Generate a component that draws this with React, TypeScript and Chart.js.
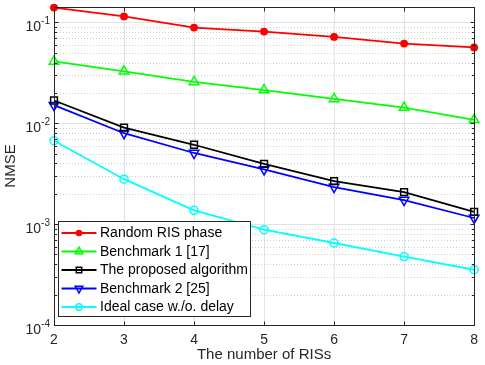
import React, { useEffect, useRef } from "react";
import { Chart, registerables } from "chart.js";

Chart.register(...registerables);

const xValues = [2, 3, 4, 5, 6, 7, 8];
const randomPhase = [0.14, 0.1146, 0.0887, 0.081, 0.0718, 0.0616, 0.0564];
const benchmark1 = [0.041, 0.0327, 0.0257, 0.0213, 0.0174, 0.0143, 0.0108];
const proposed = [0.0168, 0.00906, 0.00612, 0.00395, 0.00267, 0.00208, 0.00132];
const benchmark2 = [0.0151, 0.00796, 0.00507, 0.00348, 0.00233, 0.00173, 0.00115];
const ideal = [0.00671, 0.00279, 0.00137, 0.00088, 0.00065, 0.000477, 0.000353];
const yDecades = [1e-4, 1e-3, 1e-2, 1e-1];
const yExponents = ["-4", "-3", "-2", "-1"];
const seriesNames = [
  "Random RIS phase",
  "Benchmark 1 [17]",
  "The proposed algorithm",
  "Benchmark 2 [25]",
  "Ideal case w./o. delay",
];

const FONT = "'Liberation Sans', Arial, Helvetica, sans-serif";
const AXIS = "#262626";

function drawMarker(ctx: any, style: string, r: number, x: number, y: number, rotation: number, fill: string, stroke: string) {
  ctx.save();
  ctx.fillStyle = fill;
  ctx.strokeStyle = stroke;
  ctx.lineWidth = 1.5;
  ctx.beginPath();
  if (style === "circle") {
    ctx.arc(x, y, r, 0, Math.PI * 2);
  } else if (style === "rect") {
    const s = r * Math.SQRT1_2;
    ctx.rect(x - s, y - s, 2 * s, 2 * s);
  } else if (style === "triangle") {
    const dir = rotation === 180 ? -1 : 1;
    const w = (r * Math.sqrt(3)) / 2;
    ctx.moveTo(x, y - dir * r);
    ctx.lineTo(x - w, y + dir * r * 0.5);
    ctx.lineTo(x + w, y + dir * r * 0.5);
    ctx.closePath();
  }
  ctx.fill();
  ctx.stroke();
  ctx.restore();
}

const decoPlugin = {
  id: "deco",
  beforeDatasetsDraw(chart: any) {
    const { ctx, chartArea } = chart;
    const { left, right, top, bottom } = chartArea;
    const x = chart.scales.x;
    const y = chart.scales.y;
    ctx.save();
    ctx.lineWidth = 1;
    ctx.strokeStyle = "#e2e2e2";
    for (const v of xValues) {
      const px = Math.round(x.getPixelForValue(v)) + 0.5;
      ctx.beginPath();
      ctx.moveTo(px, top);
      ctx.lineTo(px, bottom);
      ctx.stroke();
    }
    ctx.strokeStyle = "#cdcdcd";
    ctx.setLineDash([1, 2]);
    for (const d of yDecades) {
      for (let m = 2; m <= 9; m++) {
        const v = d * m;
        if (v > y.max) continue;
        const py = Math.round(y.getPixelForValue(v)) + 0.5;
        ctx.beginPath();
        ctx.moveTo(left, py);
        ctx.lineTo(right, py);
        ctx.stroke();
      }
    }
    ctx.setLineDash([]);
    ctx.strokeStyle = "#e2e2e2";
    for (const d of yDecades) {
      const py = Math.round(y.getPixelForValue(d)) + 0.5;
      ctx.beginPath();
      ctx.moveTo(left, py);
      ctx.lineTo(right, py);
      ctx.stroke();
    }
    ctx.restore();
  },
  afterDatasetsDraw(chart: any) {
    const { ctx, chartArea } = chart;
    const { left, right, top, bottom } = chartArea;
    const x = chart.scales.x;
    const y = chart.scales.y;
    ctx.save();
    ctx.strokeStyle = AXIS;
    ctx.lineWidth = 1;
    const L = Math.round(left) + 0.5;
    const R = Math.round(right) + 0.5;
    const T = Math.round(top) + 0.5;
    const B = Math.round(bottom) + 0.5;
    ctx.strokeRect(L, T, R - L, B - T);
    ctx.beginPath();
    for (const v of xValues) {
      const px = Math.round(x.getPixelForValue(v)) + 0.5;
      ctx.moveTo(px, B);
      ctx.lineTo(px, B - 4);
      ctx.moveTo(px, T);
      ctx.lineTo(px, T + 4);
    }
    for (const d of yDecades) {
      const py = Math.round(y.getPixelForValue(d)) + 0.5;
      ctx.moveTo(L, py);
      ctx.lineTo(L + 4, py);
      ctx.moveTo(R, py);
      ctx.lineTo(R - 4, py);
      for (let m = 2; m <= 9; m++) {
        const v = d * m;
        if (v > y.max) continue;
        const pm = Math.round(y.getPixelForValue(v)) + 0.5;
        ctx.moveTo(L, pm);
        ctx.lineTo(L + 2.5, pm);
        ctx.moveTo(R, pm);
        ctx.lineTo(R - 2.5, pm);
      }
    }
    ctx.stroke();

    ctx.fillStyle = AXIS;
    yDecades.forEach((d, i) => {
      const py = y.getPixelForValue(d);
      ctx.font = `10px ${FONT}`;
      ctx.textAlign = "right";
      ctx.textBaseline = "alphabetic";
      const sup = yExponents[i];
      const supW = ctx.measureText(sup).width;
      ctx.fillText(sup, left - 4, py + 2);
      ctx.font = `14px ${FONT}`;
      ctx.fillText("10", left - 4 - supW, py + 8.5);
    });
    ctx.restore();
  },
  afterDraw(chart: any) {
    const { ctx } = chart;
    const box = { l: 58.5, t: 221.5, r: 250.5, b: 316.5 };
    ctx.save();
    ctx.fillStyle = "#ffffff";
    ctx.fillRect(box.l, box.t, box.r - box.l, box.b - box.t);
    ctx.strokeStyle = "#262626";
    ctx.lineWidth = 1;
    ctx.strokeRect(box.l, box.t, box.r - box.l, box.b - box.t);
    const rowH = 18.5;
    chart.data.datasets.forEach((ds: any, i: number) => {
      const cy = box.t + 11.5 + i * rowH;
      ctx.strokeStyle = ds.borderColor;
      ctx.lineWidth = ds.borderWidth;
      ctx.beginPath();
      ctx.moveTo(61.5, cy);
      ctx.lineTo(96.5, cy);
      ctx.stroke();
      drawMarker(ctx, ds.pointStyle, ds.pointRadius * 0.8, 79, cy, ds.pointRotation || 0, ds.pointBackgroundColor, ds.borderColor);
      ctx.fillStyle = "#000000";
      ctx.font = `14px ${FONT}`;
      ctx.textAlign = "left";
      ctx.textBaseline = "middle";
      ctx.fillText(ds.label, 100, cy + 0.5);
    });
    ctx.restore();
  },
};

export default function App() {
  const canvasRef = useRef<HTMLCanvasElement | null>(null);

  useEffect(() => {
    document.body.style.margin = "0";
    const canvas = canvasRef.current;
    if (!canvas) return;
    const mk = (
      label: string,
      data: number[],
      color: string,
      pointStyle: string,
      radius: number,
      fill: string,
      rotation = 0
    ) => ({
      label,
      data: xValues.map((xv, i) => ({ x: xv, y: data[i] })),
      borderColor: color,
      backgroundColor: color,
      pointBackgroundColor: fill,
      pointBorderColor: color,
      pointStyle,
      pointRadius: radius,
      pointRotation: rotation,
      pointBorderWidth: 1.5,
      borderWidth: 1.8,
      tension: 0,
      clip: false as any,
    });
    const chart = new Chart(canvas, {
      type: "line",
      data: {
        datasets: [
          mk(seriesNames[0], randomPhase, "#ff0000", "circle", 3.2, "#ff0000"),
          mk(seriesNames[1], benchmark1, "#00ff00", "triangle", 5.5, "rgba(0,0,0,0)"),
          mk(seriesNames[2], proposed, "#000000", "rect", 4.8, "rgba(0,0,0,0)"),
          mk(seriesNames[3], benchmark2, "#0000ff", "triangle", 5.5, "rgba(0,0,0,0)", 180),
          mk(seriesNames[4], ideal, "#00ffff", "circle", 4, "rgba(0,0,0,0)"),
        ] as any,
      },
      options: {
        animation: false,
        responsive: true,
        maintainAspectRatio: false,
        layout: { padding: { top: 5, right: 7, left: 0, bottom: 0 } },
        plugins: {
          legend: { display: false },
          tooltip: { enabled: false },
        },
        scales: {
          x: {
            type: "linear",
            min: 2,
            max: 8,
            ticks: {
              stepSize: 1,
              color: AXIS,
              padding: 7,
              font: { family: FONT, size: 14 },
            },
            grid: { display: false, drawTicks: false },
            border: { display: false },
            title: {
              display: true,
              text: "The number of RISs",
              color: AXIS,
              font: { family: FONT, size: 15 },
              padding: { top: 0, bottom: 1 },
            },
            afterFit: (s: any) => {
              s.height = 40;
            },
          },
          y: {
            type: "logarithmic",
            min: 1e-4,
            max: 0.142,
            afterBuildTicks: (s: any) => {
              s.ticks = yDecades.map((v) => ({ value: v }));
            },
            ticks: { display: false },
            grid: { display: false, drawTicks: false },
            border: { display: false },
            title: {
              display: true,
              text: "NMSE",
              color: AXIS,
              font: { family: FONT, size: 15 },
              padding: { top: 2, bottom: 0 },
            },
            afterFit: (s: any) => {
              s.width = 54;
            },
          },
        },
      } as any,
      plugins: [decoPlugin],
    });
    return () => chart.destroy();
  }, []);

  return (
    <div style={{ position: "absolute", left: 0, top: 0, width: 485, height: 365, background: "#fff" }}>
      <canvas ref={canvasRef} />
    </div>
  );
}
